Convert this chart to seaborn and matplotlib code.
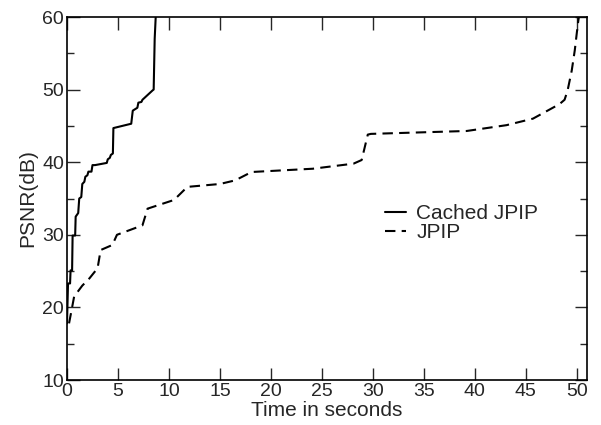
import matplotlib
matplotlib.use("Agg")
import matplotlib.pyplot as plt
import seaborn as sns
import pandas as pd
from matplotlib.ticker import MultipleLocator

# values
cached_t = [0.0, 0.1, 0.3, 0.35, 0.5, 0.55, 0.8, 0.85, 1.1, 1.2, 1.4, 1.5, 1.7, 1.8,
            2.0, 2.1, 2.4, 2.5, 2.75, 3.9, 4.0, 4.2, 4.3, 4.5, 4.55, 6.3, 6.45,
            6.9, 7.0, 7.3, 7.4, 8.4, 8.5, 8.6, 8.7]
cached_psnr = [17.8, 23.3, 23.3, 25.1, 25.1, 29.9, 29.9, 32.5, 33.0, 35.0, 35.2, 37.0,
               37.3, 38.0, 38.2, 38.7, 38.7, 39.6, 39.6, 39.9, 40.4, 40.6, 41.0, 41.2,
               44.7, 45.3, 47.1, 47.5, 48.2, 48.3, 48.6, 49.9, 50.0, 57.0, 60.0]

jpip_t = [0.2, 0.5, 0.7, 1.5, 2.2, 3.0, 3.3, 4.45, 4.9, 7.4, 7.9, 10.5, 11.8, 15.0,
          16.5, 18.1, 24.1, 28.1, 28.9, 29.5, 29.8, 39.2, 43.1, 45.7, 48.3, 48.8, 49.1,
          49.5, 49.8, 50.1, 50.2]
jpip_psnr = [17.8, 20.0, 21.5, 23.0, 24.0, 25.4, 27.9, 28.6, 30.0, 31.3, 33.6, 34.8,
             36.6, 37.0, 37.5, 38.65, 39.1, 39.8, 40.3, 43.8, 43.9, 44.3, 45.1, 46.0,
             48.0, 48.6, 49.9, 52.6, 55.4, 59.0, 60.0]

series_names = ["Cached JPIP", "JPIP"]
x_ticks = list(range(0, 51, 5))
y_ticks = list(range(10, 61, 10))

df = pd.concat([
    pd.DataFrame({"t": cached_t, "psnr": cached_psnr, "method": series_names[0]}),
    pd.DataFrame({"t": jpip_t, "psnr": jpip_psnr, "method": series_names[1]}),
])

sns.set_style("ticks")
plt.rcParams["font.family"] = ["Liberation Sans", "DejaVu Sans"]

fig = plt.figure(figsize=(6.01, 4.25), dpi=100)
ax = fig.add_axes([67 / 601, 1 - 380 / 425, 520 / 601, 363 / 425])

sns.lineplot(data=df, x="t", y="psnr", style="method", dashes={series_names[0]: "", series_names[1]: (5, 3)},
             color="black", linewidth=1.5, sort=False, estimator=None, ax=ax)

ax.set_xlim(0, 51)
ax.set_ylim(10, 60)
ax.set_xticks(x_ticks)
ax.set_yticks(y_ticks)
ax.yaxis.set_minor_locator(MultipleLocator(5))
ax.tick_params(which="both", direction="in", top=True, right=True, labelsize=14, pad=2, width=1)
ax.tick_params(which="major", length=9)
ax.tick_params(which="minor", length=5)
for s in ax.spines.values():
    s.set_linewidth(1.2)
    s.set_color("black")

ax.set_xlabel("Time in seconds", fontsize=15, labelpad=1)
ax.set_ylabel("PSNR(dB)", fontsize=15, labelpad=4)

handles, labels = ax.get_legend_handles_labels()
ax.legend(handles, labels, loc="center left", bbox_to_anchor=(0.612, 0.432), frameon=False,
          fontsize=15, handlelength=1.0, handletextpad=0.5, labelspacing=0.0,
          borderpad=0, borderaxespad=0)

fig.savefig("out.png", dpi=100)
